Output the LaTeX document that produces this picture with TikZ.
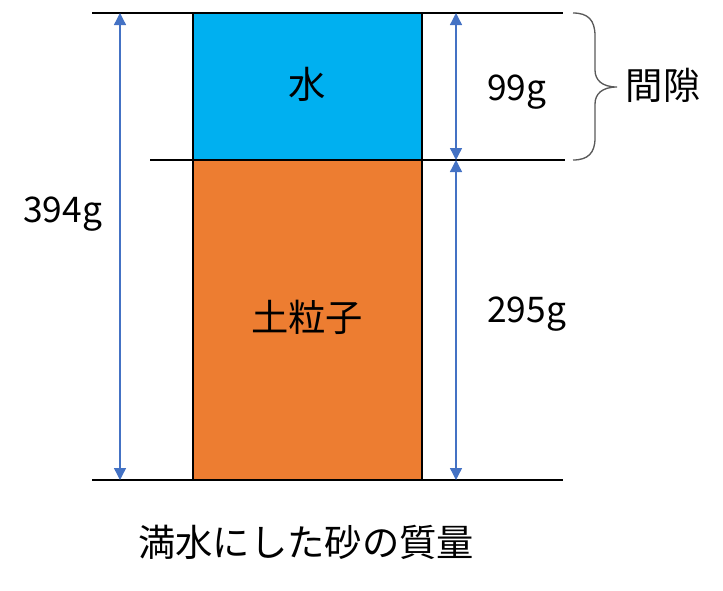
\documentclass[tikz,border=0pt]{standalone}
\usepackage{fontspec}
\setmainfont{Noto Sans CJK JP}
\usetikzlibrary{arrows.meta}
\definecolor{water}{HTML}{00B0F0}
\definecolor{soil}{HTML}{ED7D31}
\definecolor{dim}{HTML}{4472C4}
\definecolor{bracec}{HTML}{595959}
\begin{document}
\begin{tikzpicture}[x=0.75pt,y=-0.75pt,
  guide/.style={line width=1.1pt},
  box/.style={draw=black,line width=2.2pt},
  dimline/.style={draw=dim,line width=1pt,{Triangle[width=9pt,length=9pt]}-{Triangle[width=9pt,length=9pt]}},
  jp/.style={inner sep=0pt,font=\fontsize{28}{30}\selectfont},
  num/.style={inner sep=0pt,anchor=base west,font=\fontsize{26.5}{28}\selectfont}]
\useasboundingbox (0,0) rectangle (723,590);
% layers
\fill[water] (193,13) rectangle (422,160);
\fill[soil] (193,160) rectangle (422,480);
\draw[box] (193,13) rectangle (422,160);
\draw[box] (193,160) rectangle (422,480);
% guide lines
\coordinate (tl) at (92,13);  \coordinate (tr) at (563,13);
\coordinate (ml) at (150,160); \coordinate (mr) at (565,160);
\coordinate (bl) at (92,480); \coordinate (br) at (563,480);
\draw[guide] (tl) -- (tr);
\draw[guide] (ml) -- (mr);
\draw[guide] (bl) -- (br);
% dimension arrows
\coordinate (a1) at (120,13); \coordinate (a2) at (120,480);
\coordinate (b1) at (456,13); \coordinate (b2) at (456,160); \coordinate (b3) at (456,480);
\draw[dimline] (a1) -- (a2);
\draw[dimline] (b1) -- (b2);
\draw[dimline] (b2) -- (b3);
% brace
\draw[bracec,line width=1pt] (573,13) .. controls (588,13) and (595,20) .. (595,36)
  -- (595,70) .. controls (595,80) and (602,87) .. (617,87)
  .. controls (602,87) and (595,94) .. (595,104)
  -- (595,138) .. controls (595,153) and (588,160) .. (573,160);
% labels
\node[jp] (water) at (307,84) {水};
\node[jp] (soil) at (307,317) {土粒子};
\node[jp] (gap) at (663,85) {間隙};
\node[jp] (cap) at (306,542) {満水にした砂の質量};
\node[num] (n394) at (23,222) {394g};
\node[num] (n99) at (487,100) {99g};
\node[num] (n295) at (487,322) {295g};
\end{tikzpicture}
\end{document}
